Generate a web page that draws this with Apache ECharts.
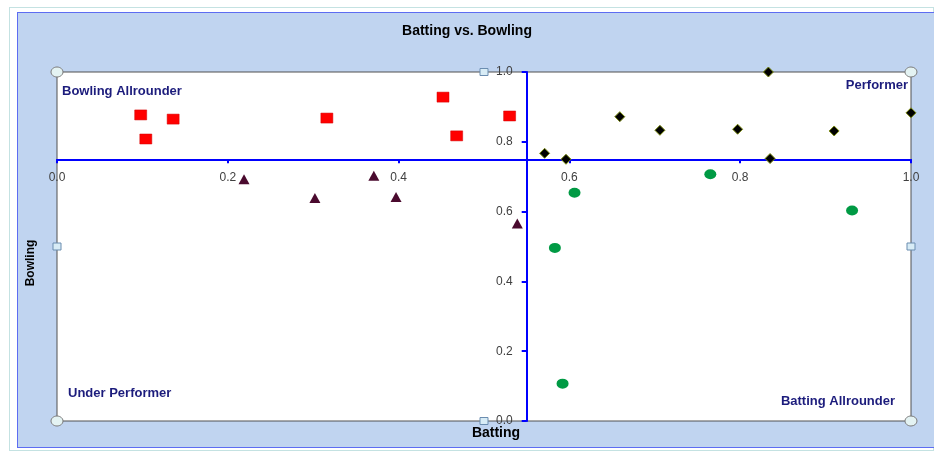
<!DOCTYPE html>
<html>
<head>
<meta charset="utf-8">
<script src="https://cdn.jsdelivr.net/npm/echarts@6/dist/echarts.min.js"></script>
<style>
  html, body { margin: 0; padding: 0; background: #fff; }
  #frame { position: absolute; left: 9px; top: 7px; width: 925px; height: 444px; border: 1px solid #c4e2e2; box-sizing: border-box; }
  #panel { position: absolute; left: 17px; top: 12px; width: 917px; height: 436px; background: #c0d4f0; border: 1px solid #5d6cf2; border-right: none; box-sizing: border-box; }
  #main { position: absolute; left: 0; top: 0; width: 934px; height: 451px; }
</style>
</head>
<body>
<div id="frame"></div>
<div id="panel"></div>
<div id="main"></div>
<script>
// batting (x), bowling (y) per player group
var bowlingAllrounder = [
    [0.098, 0.877], [0.104, 0.808], [0.136, 0.865], [0.316, 0.868],
    [0.452, 0.928], [0.468, 0.817], [0.530, 0.874]
];
var underPerformer = [
    [0.219, 0.693], [0.302, 0.639], [0.371, 0.703], [0.397, 0.642], [0.539, 0.566]
];
var performer = [
    [0.571, 0.767], [0.596, 0.750], [0.659, 0.872], [0.706, 0.833], [0.797, 0.836],
    [0.833, 1.000], [0.835, 0.752], [0.910, 0.831], [1.000, 0.883]
];
var battingAllrounder = [
    [0.606, 0.654], [0.583, 0.496], [0.592, 0.107], [0.765, 0.707], [0.931, 0.603]
];
// where the axes cross
var xCross = 0.55;
var yCross = 0.75;

var W = 934, H = 451;
var gLeft = 57, gRight = 23, gTop = 72, gBottom = 30;
var plotW = W - gLeft - gRight;
var plotH = H - gTop - gBottom;

var chart = echarts.init(document.getElementById('main'));

var blue = '#0000ff';
var fam = 'Liberation Sans, Arial, sans-serif';
var labelStyle = { color: '#404040', fontSize: 12, fontFamily: fam };
var quadFont = 'bold 13px ' + fam;
var quadColor = '#1c1c7c';

function handleCircle(x, y) {
    return { type: 'ellipse', z: 100, shape: { cx: x, cy: y, rx: 6, ry: 5 },
        style: { fill: '#e4f3f3', stroke: '#7a7a7a', lineWidth: 1 } };
}
function handleSquare(x, y) {
    return { type: 'rect', z: 100, shape: { x: x - 4, y: y - 3.5, width: 8, height: 7 },
        style: { fill: '#d8ecf6', stroke: '#6b8db0', lineWidth: 1 } };
}

var option = {
    backgroundColor: 'transparent',
    animation: false,
    title: {
        text: 'Batting vs. Bowling',
        left: 'center',
        top: 19,
        textStyle: { fontSize: 14, fontWeight: 'bold', color: '#000', fontFamily: fam }
    },
    grid: {
        left: gLeft, right: gRight, top: gTop, bottom: gBottom,
        show: true, backgroundColor: '#fff', borderColor: '#505050', borderWidth: 1,
        outerBoundsMode: 'none'
    },
    xAxis: {
        type: 'value', min: 0, max: 1, interval: 0.2,
        position: 'bottom',
        offset: -(yCross - 0) / (1 - 0) * plotH,
        axisLine: { show: true, onZero: false, lineStyle: { color: blue, width: 2 } },
        axisTick: { show: true, length: 4, lineStyle: { color: blue, width: 2 } },
        axisLabel: Object.assign({ margin: 12, formatter: function (v) { return v.toFixed(1); } }, labelStyle),
        splitLine: { show: false }
    },
    yAxis: {
        type: 'value', min: 0, max: 1, interval: 0.2,
        position: 'left',
        offset: -(xCross - 0) / (1 - 0) * plotW,
        axisLine: { show: true, onZero: false, lineStyle: { color: blue, width: 2 } },
        axisTick: { show: true, length: 5, lineStyle: { color: blue, width: 2 } },
        axisLabel: Object.assign({ margin: 14, formatter: function (v) { return v.toFixed(1); } }, labelStyle),
        splitLine: { show: false }
    },
    graphic: [
        { type: 'text', z: 50, left: 62, top: 85, style: { text: 'Bowling Allrounder', font: quadFont, fill: quadColor } },
        { type: 'text', z: 50, right: 26, top: 79, style: { text: 'Performer', font: quadFont, fill: quadColor } },
        { type: 'text', z: 50, left: 68, top: 387, style: { text: 'Under Performer', font: quadFont, fill: quadColor } },
        { type: 'text', z: 50, right: 39, top: 395, style: { text: 'Batting Allrounder', font: quadFont, fill: quadColor } },
        { type: 'text', z: 50, x: 496, y: 433,
          style: { text: 'Batting', font: 'bold 14px ' + fam, fill: '#000', textAlign: 'center', textVerticalAlign: 'middle' } },
        { type: 'text', z: 50, x: 31, y: 263, rotation: Math.PI / 2,
          style: { text: 'Bowling', font: 'bold 12px ' + fam, fill: '#000', textAlign: 'center', textVerticalAlign: 'middle' } },
        handleCircle(gLeft, gTop), handleCircle(W - gRight, gTop),
        handleCircle(gLeft, H - gBottom), handleCircle(W - gRight, H - gBottom),
        handleSquare(gLeft + plotW / 2, gTop), handleSquare(gLeft + plotW / 2, H - gBottom),
        handleSquare(gLeft, gTop + plotH / 2), handleSquare(W - gRight, gTop + plotH / 2)
    ],
    series: [{
        name: 'Bowling Allrounder',
        type: 'scatter',
        clip: false,
        symbol: 'rect',
        symbolSize: [12, 10],
        itemStyle: { color: '#ff0000', borderColor: '#d00000', borderWidth: 0.5, opacity: 1 },
        data: bowlingAllrounder
    }, {
        name: 'Under Performer',
        type: 'scatter',
        clip: false,
        symbol: 'triangle',
        symbolSize: [11, 10],
        itemStyle: { color: '#4a0a2e', opacity: 1 },
        data: underPerformer
    }, {
        name: 'Performer',
        type: 'scatter',
        clip: false,
        symbol: 'diamond',
        symbolSize: [10, 10],
        itemStyle: { color: '#000000', borderColor: '#7a8a10', borderWidth: 1, opacity: 1 },
        data: performer
    }, {
        name: 'Batting Allrounder',
        type: 'scatter',
        clip: false,
        symbol: 'circle',
        symbolSize: [12, 10],
        itemStyle: { color: '#009a44', opacity: 1 },
        data: battingAllrounder
    }]
};

chart.setOption(option);
</script>
</body>
</html>
